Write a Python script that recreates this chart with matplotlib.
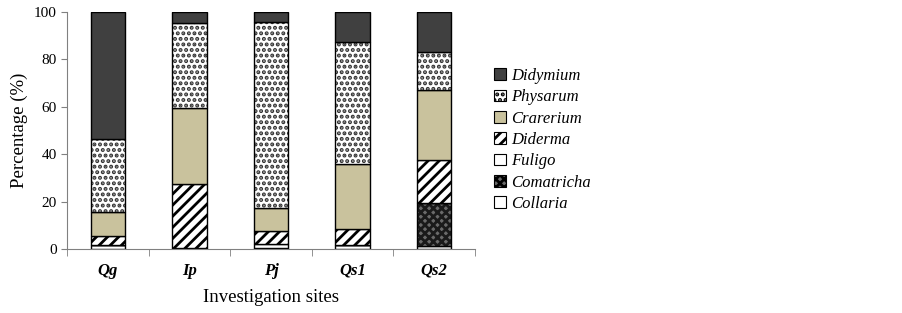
import numpy as np
import matplotlib
matplotlib.use("Agg")
import matplotlib.pyplot as plt

plt.rcParams['font.family'] = ['Liberation Serif', 'DejaVu Serif']
plt.rcParams['hatch.linewidth'] = 2.0

sites = ['Qg', 'Ip', 'Pj', 'Qs1', 'Qs2']
# stacking order bottom -> top
genera = ['Collaria', 'Comatricha', 'Fuligo', 'Diderma', 'Crarerium', 'Physarum', 'Didymium']
collaria   = [1.5, 0.5, 0.5, 1.5, 1.2]
comatricha = [0.0, 0.0, 0.0, 0.3, 18.3]
fuligo     = [0.0, 0.0, 1.5, 0.0, 0.0]
diderma    = [4.0, 27.0, 5.5, 6.5, 18.0]
crarerium  = [10.2, 31.8, 10.0, 27.5, 29.8]
physarum   = [30.8, 36.0, 78.5, 51.7, 15.7]
didymium   = [53.5, 4.7, 4.0, 12.5, 17.0]

values = [collaria, comatricha, fuligo, diderma, crarerium, physarum, didymium]
styles = {
    'Collaria':   dict(color='white', hatch=None, hc='black'),
    'Comatricha': dict(color='#6a6a6a', hatch='xxxx', hc='#1a1a1a'),
    'Fuligo':     dict(color='white', hatch=None, hc='black'),
    'Diderma':    dict(color='white', hatch='///', hc='black'),
    'Crarerium':  dict(color='#c9c29d', hatch=None, hc='black'),
    'Physarum':   dict(color='white', hatch='...', hc='#333333'),
    'Didymium':   dict(color='#404040', hatch=None, hc='black'),
}

fig = plt.figure(figsize=(9.02, 3.13), dpi=100)
ax = fig.add_axes([0.0743, 0.2045, 0.4523, 0.757])

x = np.arange(len(sites))
bottom = np.zeros(len(sites))
handles = []
for name, vals in zip(genera, values):
    st = styles[name]
    b = ax.bar(x, vals, 0.42, bottom=bottom, color=st['color'], hatch=st['hatch'],
               edgecolor=st['hc'], linewidth=0, label=name)
    # black outline drawn separately so hatch colour can differ
    ax.bar(x, vals, 0.42, bottom=bottom, fill=False, edgecolor='black', linewidth=1.0)
    bottom += np.array(vals)
    handles.append(b)

ax.set_xlim(-0.5, len(sites) - 0.5)
ax.set_ylim(0, 100)
ax.set_yticks(np.arange(0, 101, 20))
ax.set_xticks(x)
ax.set_xticklabels(sites, fontstyle='italic', fontweight='bold', fontsize=12)
ax.set_xticks(np.arange(-0.5, len(sites), 1), minor=True)
ax.tick_params(axis='x', which='major', length=0, pad=10)
ax.tick_params(axis='x', which='minor', length=5, color='#808080')
ax.tick_params(axis='y', labelsize=11, length=4, color='#808080')
for s in ['top', 'right']:
    ax.spines[s].set_visible(False)
for s in ['left', 'bottom']:
    ax.spines[s].set_color('#808080')

ax.set_ylabel('Percentage (%)', fontsize=13.5)
ax.set_xlabel('Investigation sites', fontsize=13.5, labelpad=7)

leg = ax.legend(handles[::-1], genera[::-1], loc='center left', bbox_to_anchor=(1.01, 0.46),
                frameon=False, prop={'style': 'italic', 'size': 12},
                handlelength=0.7, handleheight=0.7, handletextpad=0.3, labelspacing=0.32)
for h in leg.legend_handles:
    h.set_edgecolor('black')
    h.set_linewidth(0.8)

fig.savefig('out.png', dpi=100)
